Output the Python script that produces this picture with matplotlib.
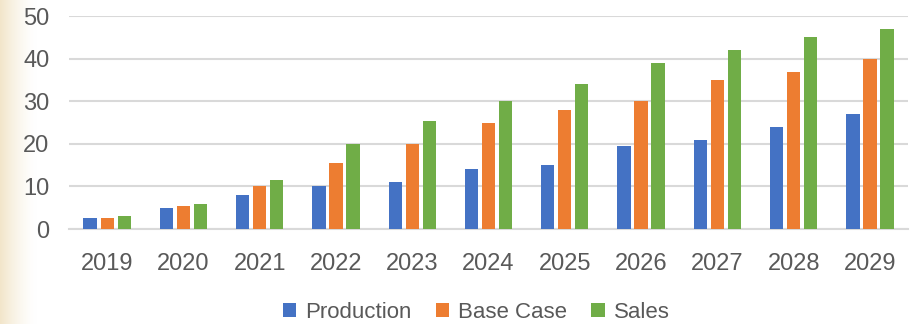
import numpy as np
import matplotlib.pyplot as plt
from matplotlib import font_manager

years = ["2019", "2020", "2021", "2022", "2023", "2024", "2025", "2026", "2027", "2028", "2029"]
production = [2.5, 5, 8, 10, 11, 14, 15, 19.5, 21, 24, 27]
base_case = [2.6, 5.5, 10, 15.5, 20, 25, 28, 30, 35, 37, 40]
sales = [3, 6, 11.5, 20, 25.5, 30, 34, 39, 42, 45, 47]

series = [("Production", production, "#4472C4"),
          ("Base Case", base_case, "#ED7D31"),
          ("Sales", sales, "#70AD47")]

names = {f.name for f in font_manager.fontManager.ttflist}
font = "Liberation Sans Narrow" if "Liberation Sans Narrow" in names else "Liberation Sans"
plt.rcParams["font.family"] = [font, "DejaVu Sans"]

fig = plt.figure(figsize=(9.14, 3.24), dpi=100)

# faint beige strip on the left edge
bg = fig.add_axes([0, 0, 0.04, 1])
grad = np.linspace(1, 0, 100)[None, :] ** 1.5
beige = np.array([0.95, 0.90, 0.79])
img = np.ones((1, 100, 3)) * (1 - grad[..., None]) + beige * grad[..., None]
bg.imshow(img, aspect="auto", extent=[0, 1, 0, 1])
bg.axis("off")

ax = fig.add_axes([0.0755, 0.293, 0.918, 0.657])
ax.patch.set_alpha(0)
x = np.arange(len(years))
w = 0.174
step = 0.223
for i, (label, vals, color) in enumerate(series):
    ax.bar(x + (i - 1) * step, vals, w, color=color, label=label, zorder=3)

ax.set_xlim(-0.5, len(years) - 0.5)
ax.set_ylim(0, 50)
ax.set_yticks(range(0, 51, 10))
ax.set_xticks(x)
ax.set_xticklabels(years)
ax.yaxis.grid(True, color="#D9D9D9", linewidth=1.5, zorder=0)
for s in ["top", "right", "left"]:
    ax.spines[s].set_visible(False)
ax.spines["bottom"].set_color("#D9D9D9")
ax.spines["bottom"].set_linewidth(1.5)
ax.tick_params(length=0, labelsize=17, labelcolor="#595959")
ax.tick_params(axis="x", pad=17)
ax.tick_params(axis="y", pad=14)

handles, labels = ax.get_legend_handles_labels()
fig.legend(handles, labels, loc="center", bbox_to_anchor=(476 / 914, 12 / 324), ncol=3,
           frameon=False, fontsize=16, handlelength=0.6, handleheight=0.6,
           handletextpad=0.4, columnspacing=1.1, labelcolor="#595959")

fig.savefig("out.png", dpi=100)
